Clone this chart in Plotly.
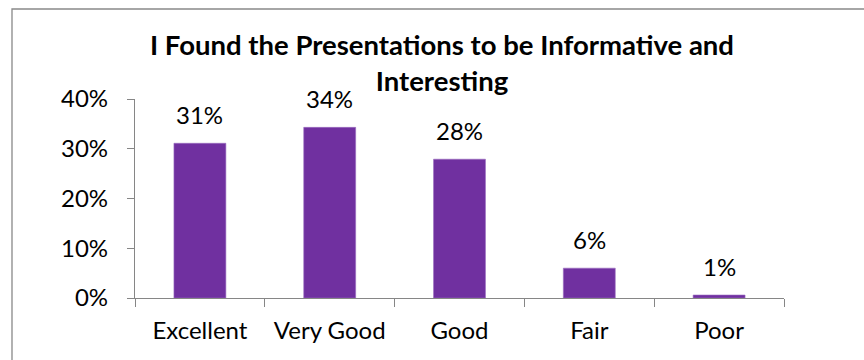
import plotly.graph_objects as go

# Survey responses
categories = ["Excellent", "Very Good", "Good", "Fair", "Poor"]
shares = [0.311, 0.343, 0.279, 0.060, 0.006]
y_ticks = [0, 0.1, 0.2, 0.3, 0.4]
y_tick_labels = ["0%", "10%", "20%", "30%", "40%"]

title_text = "I Found the Presentations to be Informative and<br>Interesting"

FONT = "Lato, Open Sans, sans-serif"
BAR_COLOR = "#7030A0"
AXIS_COLOR = "#868686"
LABEL_SIZE = 24

fig = go.Figure()
fig.add_trace(go.Bar(
    x=categories,
    y=shares,
    marker=dict(color=BAR_COLOR, line=dict(color="#9a6cc0", width=0.6)),
    width=0.4,
    hoverinfo="skip",
))

# value labels above each bar
for cat, val in zip(categories, shares):
    fig.add_annotation(
        x=cat, y=val, text=f"{val:.0%}", showarrow=False,
        yanchor="bottom", yshift=12,
        font=dict(family=FONT, size=LABEL_SIZE, color="#000000"),
    )

# outer chart frame
fig.add_shape(
    type="rect", xref="paper", yref="paper",
    x0=(12 - 135) / 649, x1=(880 - 135) / 649,
    y0=-(380 - 298) / 199, y1=1 + (99 - 9) / 199,
    line=dict(color="#898989", width=1.3), fillcolor="rgba(0,0,0,0)", layer="below",
)

fig.update_layout(
    width=864, height=360,
    margin=dict(l=135, r=80, t=99, b=62),
    paper_bgcolor="white", plot_bgcolor="white",
    showlegend=False,
    title=dict(
        text=title_text, xref="container", yref="container",
        x=442 / 864, xanchor="center", y=1 - 55 / 360, yanchor="top",
        font=dict(family=FONT, size=27.5, color="#000000", weight="bold"),
    ),
    font=dict(family=FONT, size=LABEL_SIZE, color="#000000"),
    bargap=0.6,
)

fig.update_xaxes(
    type="category", showline=True, linecolor=AXIS_COLOR, linewidth=1.3,
    ticks="outside", tickson="boundaries", ticklen=8, tickcolor=AXIS_COLOR, tickwidth=1.3,
    showgrid=False, zeroline=False, ticklabelstandoff=11,
    tickfont=dict(family=FONT, size=LABEL_SIZE, color="#000000"),
)
fig.update_yaxes(
    range=[0, 0.4], tickvals=y_ticks, ticktext=y_tick_labels,
    showline=True, linecolor=AXIS_COLOR, linewidth=1.3,
    ticks="outside", ticklen=7, tickcolor=AXIS_COLOR, tickwidth=1.3,
    showgrid=False, zeroline=False, ticklabelstandoff=14,
    tickfont=dict(family=FONT, size=LABEL_SIZE, color="#000000"),
)

fig.write_html("out.html")
